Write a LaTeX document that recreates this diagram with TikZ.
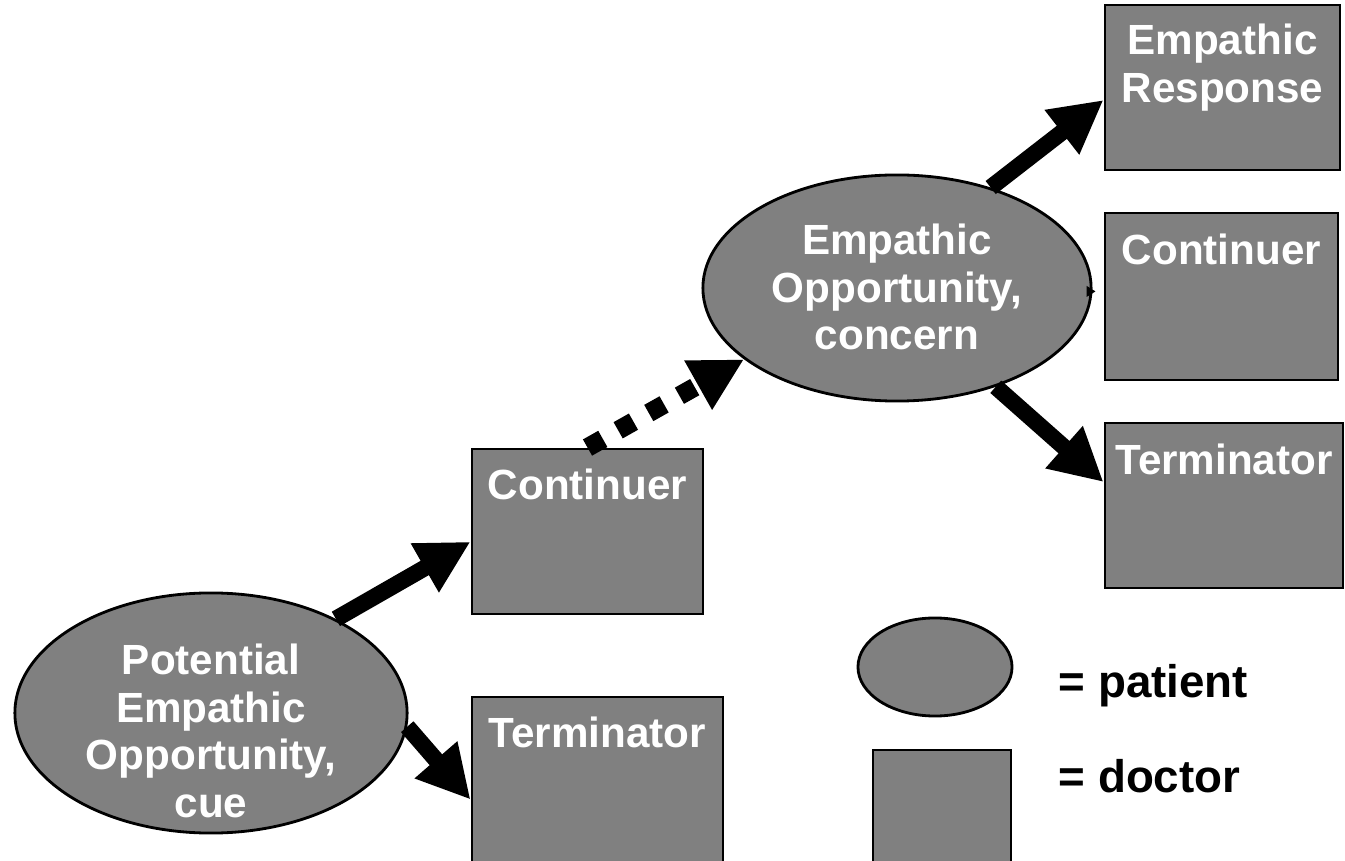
\documentclass[tikz,border=0pt]{standalone}
\usepackage{fontspec}
\setmainfont{Liberation Sans}
\usetikzlibrary{shapes.geometric,arrows.meta}
\definecolor{shade}{RGB}{128,128,128}
\tikzset{
patient/.style={ellipse,draw,line width=0.8pt,fill=shade,inner sep=0pt},
doctor/.style={draw,line width=0.8pt,fill=shade,inner sep=0pt},
inside/.style={text=white,font=\bfseries\fontsize{12}{13.5}\selectfont,align=center,inner sep=0pt,anchor=north},
arr/.style={line width=4.7pt,-{Triangle[length=15pt,width=15pt]}}
}
\begin{document}
\begin{tikzpicture}[x=0.01cm,y=-0.01cm]
\useasboundingbox(0,0)rectangle(1345,861);
%patient
\node[patient,minimum width=3.92cm,minimum height=2.40cm,label={[inside,yshift=-0.52cm]north:Potential\\Empathic\\Opportunity,\\cue}](pot)at(211,713){};
\node[patient,minimum width=3.88cm,minimum height=2.26cm,label={[inside,yshift=-0.50cm]north:Empathic\\Opportunity,\\concern}](conc)at(897,288){};
%doctor
\node[doctor,minimum width=2.31cm,minimum height=1.65cm,label={[inside,yshift=-0.21cm]north:Continuer}](cont1)at(587.5,531.5){};
\node[doctor,minimum width=2.51cm,minimum height=1.83cm,label={[inside,yshift=-0.21cm]north:Terminator}](term1)at(597.5,788.5){};
\node[doctor,minimum width=2.35cm,minimum height=1.65cm,label={[inside,yshift=-0.20cm]north:Empathic\\Response}](resp)at(1222.5,87.5){};
\node[doctor,minimum width=2.33cm,minimum height=1.67cm,label={[inside,yshift=-0.22cm]north:Continuer}](cont2)at(1221.5,296.5){};
\node[doctor,minimum width=2.38cm,minimum height=1.65cm,label={[inside,yshift=-0.22cm]north:Terminator}](term2)at(1224,505.5){};
%arrows
\draw[arr](pot.37)--(cont1.185);
\draw[arr](pot.-4)--(term1.185);
\draw[arr,line width=5.3pt,dash pattern=on 5pt off 5pt](cont1.north)--(conc.205);
\draw[arr](conc.47)--(resp.186);
\draw[arr](conc.-45)--(term2.169);
\draw[-{Triangle[length=2.5pt,width=3pt]},shorten >=0.08cm](conc.-1)--(cont2.west|-conc.-1);
%legend
\node[patient,minimum width=1.54cm,minimum height=0.98cm](legpat)at(935,667){};
\node[doctor,minimum width=1.38cm,minimum height=1.30cm](legdoc)at(942,815){};
\node[anchor=base west,inner sep=0pt,font=\bfseries\fontsize{13}{15}\selectfont](patlbl)at(1058,697){= patient};
\node[anchor=base west,inner sep=0pt,font=\bfseries\fontsize{13}{15}\selectfont](doclbl)at(1058,792){= doctor};
\end{tikzpicture}
\end{document}
